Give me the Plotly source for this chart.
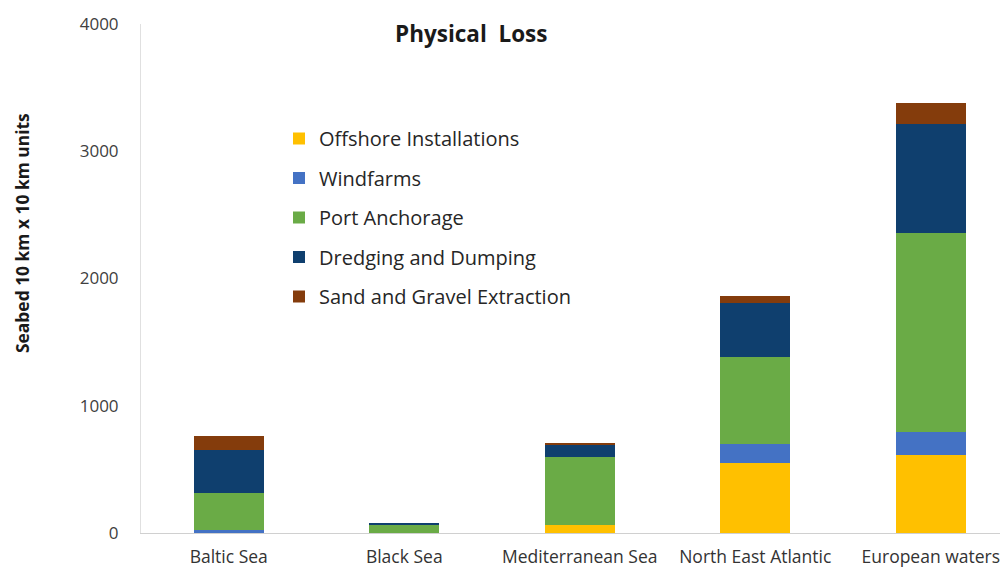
import plotly.graph_objects as go

categories = ["Baltic Sea", "Black Sea", "Mediterranean Sea", "North East Atlantic", "European waters"]
offshore = [0, 0, 60, 550, 610]
windfarms = [25, 0, 0, 150, 185]
port_anchorage = [290, 70, 537, 680, 1563]
dredging = [338, 12, 97, 430, 860]
sand_gravel = [110, 0, 10, 55, 165]

series_names = ["Offshore Installations", "Windfarms", "Port Anchorage",
                "Dredging and Dumping", "Sand and Gravel Extraction"]
series_values = [offshore, windfarms, port_anchorage, dredging, sand_gravel]
colors = ["#FFC000", "#4472C4", "#6AAB46", "#0F3F6E", "#843C0C"]

y_ticks = [0, 1000, 2000, 3000, 4000]

FONT = "Open Sans"

# page has an 8px body margin; figure sized to fit the 1008x567 window
OFF = 8
W, H = 1008 - OFF, 567 - OFF
L, R, T, B = 141 - OFF, 0, 24 - OFF, 34
pw, ph = W - L - R, H - T - B


def px_x(x):
    return (x - OFF - L) / pw


def px_y(y):
    return (H - B - (y - OFF)) / ph


fig = go.Figure()
for i, (name, vals, col) in enumerate(zip(series_names, series_values, colors)):
    fig.add_trace(go.Bar(x=categories, y=vals, name=name, marker_color=col,
                         marker_line_width=0, legendgroup=f"g{i}"))

fig.update_layout(
    barmode="stack",
    bargap=0.6,
    width=W, height=H,
    margin=dict(l=L, r=R, t=T, b=B, autoexpand=False),
    paper_bgcolor="white", plot_bgcolor="white",
    font=dict(family=FONT, color="#333333"),
    showlegend=True,
    legend=dict(x=px_x(279), y=px_y(119), xanchor="left", yanchor="top",
                traceorder="grouped", tracegroupgap=10.5,
                font=dict(size=20, color="#262626", family=FONT),
                bgcolor="rgba(0,0,0,0)"),
    xaxis=dict(range=[-0.5, 4.44], showgrid=False, showline=True,
               linecolor="#d0d0d0", linewidth=1, automargin=False,
               tickfont=dict(size=17.5, color="#333333", family=FONT),
               ticks="", ticklabelstandoff=8),
    yaxis=dict(range=[0, 4000], tickvals=y_ticks, showgrid=False,
               showline=True, linecolor="#e0e0e0", linewidth=1,
               zeroline=False, automargin=False,
               tickfont=dict(size=17, color="#404040", family=FONT),
               ticks="", ticklabelstandoff=18),
    annotations=[
        dict(text="<b>Physical\u00a0\u00a0Loss</b>", x=px_x(471), y=px_y(33),
             xref="paper", yref="paper", xanchor="center", yanchor="middle",
             showarrow=False, font=dict(size=22.5, color="#1a1a1a", family=FONT)),
        dict(text="<b>Seabed 10 km x 10 km units</b>", textangle=-90,
             x=px_x(22), y=px_y(233), xref="paper", yref="paper",
             xanchor="center", yanchor="middle",
             showarrow=False, font=dict(size=17.4, color="#1a1a1a", family=FONT)),
    ],
)

fig.write_html("out.html")
